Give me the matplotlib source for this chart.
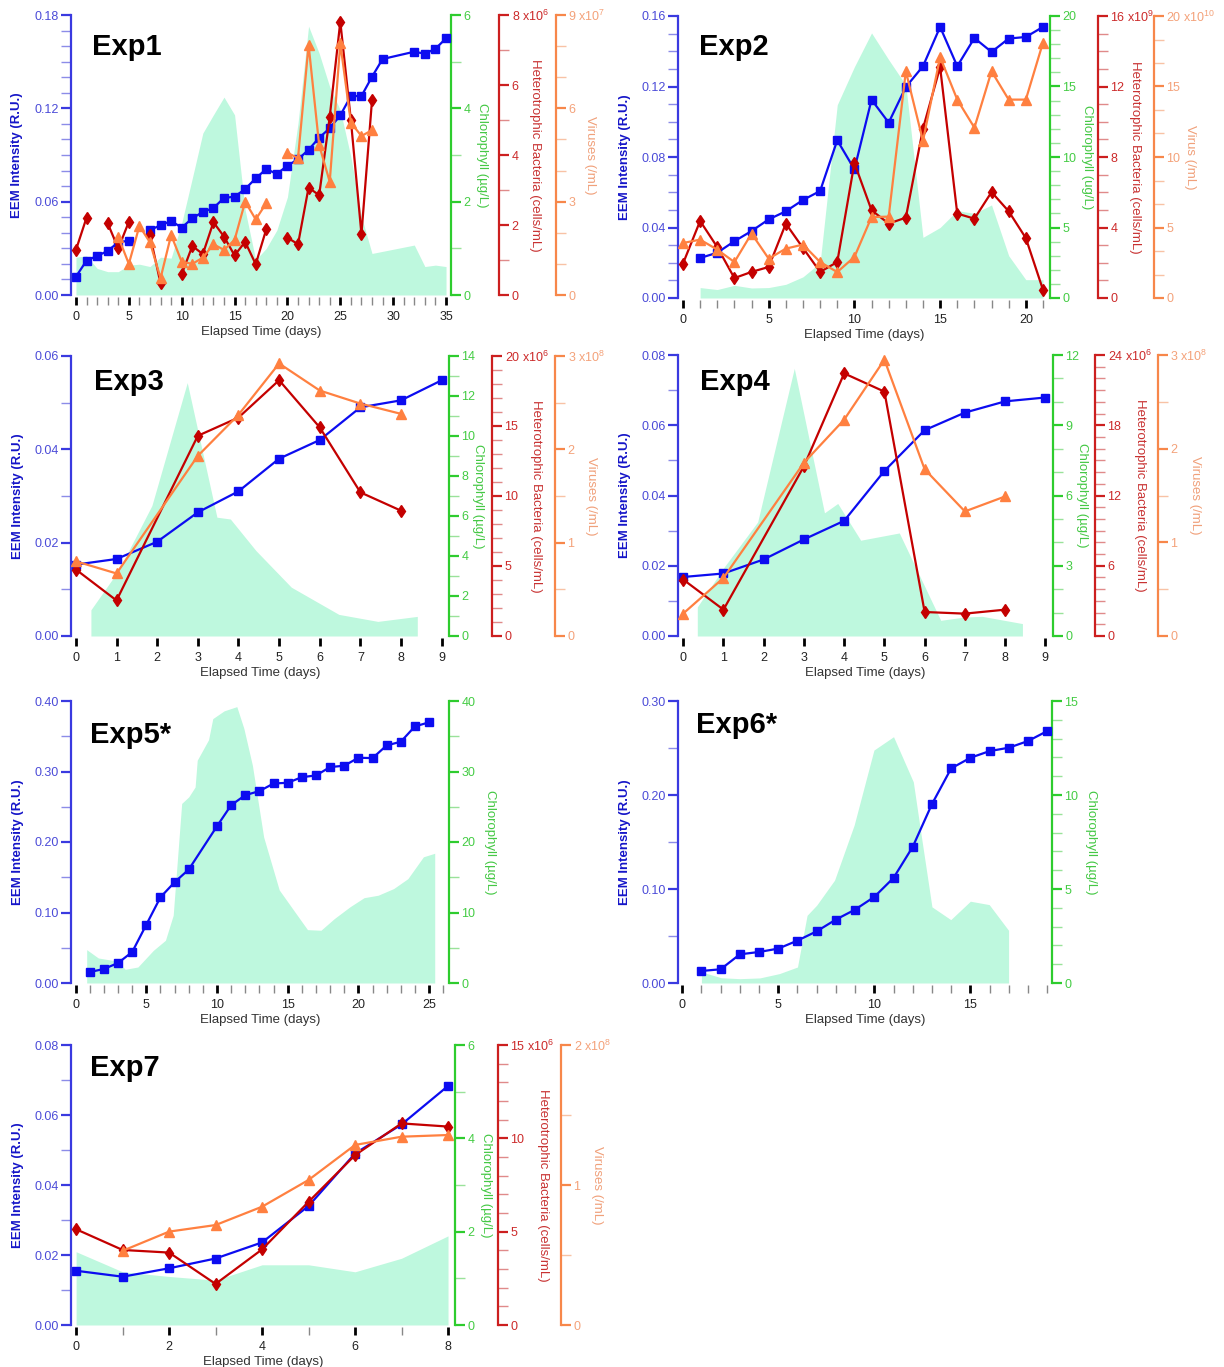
import numpy as np
import matplotlib
matplotlib.use("Agg")
import matplotlib.pyplot as plt
from matplotlib.ticker import MultipleLocator, FuncFormatter

plt.rcParams["font.family"] = ["Liberation Sans", "DejaVu Sans"]
plt.rcParams["mathtext.fontset"] = "custom"
plt.rcParams["mathtext.rm"] = "Liberation Sans"
plt.rcParams["mathtext.default"] = "regular"

nan = np.nan

# ---- Exp1 ----
exp1_eem_days = list(range(0, 30)) + [32, 33, 34, 35]
exp1_eem = [0.0118, 0.0221, 0.0251, 0.0283, 0.0339, 0.0349, nan, 0.0418, 0.0448, 0.0476,
            0.0433, 0.0493, 0.0534, 0.0559, 0.0624, 0.0632, 0.0681, 0.0750, 0.0810, 0.0778,
            0.0832, 0.0872, 0.0934, 0.1011, 0.1072, 0.1155, 0.1279, 0.1279, 0.1403, 0.1517,
            0.1564, 0.1551, 0.1583, 0.1650]
exp1_bact_days = list(range(0, 29))
exp1_bact = [1.29, 2.21, nan, 2.05, 1.33, 2.09, nan, 1.71, 0.33, nan, 0.59, 1.40, 1.17, 2.08,
             1.67, 1.13, 1.52, 0.88, 1.88, nan, 1.64, 1.45, 3.07, 2.85, 5.09, 7.81, 5.00, 1.74, 5.57]
exp1_vir_days = list(range(4, 29))
exp1_vir = [1.87, 1.00, 2.22, 1.69, 0.54, 1.93, 1.07, 1.00, 1.20, 1.63, 1.45, 1.77, 3.00,
            2.43, 2.95, nan, 4.57, 4.40, 8.04, 4.82, 3.64, 8.09, 5.54, 5.11, 5.30]
exp1_chl_days = list(range(0, 29)) + [32, 33, 34, 35]
exp1_chl = [0.81, 0.84, 0.57, 0.50, 0.50, 0.64, 0.66, 0.61, 0.81, 0.79, 1.54, 2.50, 3.47,
            3.86, 4.24, 3.86, 1.82, 0.75, 1.00, 1.39, 2.10, 3.68, 5.76, 5.18, 4.46, 3.96,
            2.96, 1.68, 0.89, 1.07, 0.61, 0.64, 0.61]

# ---- Exp2 ----
exp2_eem_days = list(range(1, 22))
exp2_eem = [0.0227, 0.0257, 0.0322, 0.0380, 0.0446, 0.0492, 0.0556, 0.0607, 0.0895, 0.0730,
            0.1125, 0.0995, 0.1197, 0.1315, 0.1538, 0.1315, 0.1475, 0.1396, 0.1472, 0.1481, 0.1538]
exp2_bact_days = list(range(0, 22))
exp2_bact = [1.95, 4.37, 2.89, 1.13, 1.48, 1.76, 4.22, 2.84, 1.48, 2.04, 7.66, 4.98, 4.22,
             4.56, 9.61, 13.10, 4.79, 4.50, 6.01, 4.92, 3.40, 0.47]
exp2_vir_days = list(range(0, 22))
exp2_vir = [3.90, 4.14, 3.43, 2.55, 4.57, 2.79, 3.50, 3.79, 2.55, 1.84, 2.91, 5.74, 5.77,
            16.08, 11.14, 17.09, 14.07, 12.08, 16.08, 14.07, 14.07, 18.11]
exp2_chl_days = list(range(1, 22))
exp2_chl = [0.74, 0.60, 0.90, 0.71, 0.74, 0.97, 1.50, 2.50, 13.70, 16.40, 18.80, 16.90,
            15.10, 4.30, 5.00, 6.20, 6.00, 6.60, 3.00, 1.30, 1.30]

# ---- Exp3 ----
exp3_eem_days = list(range(0, 10))
exp3_eem = [0.0153, 0.0165, 0.0202, 0.0265, 0.0310, 0.0380, 0.0420, 0.0490, 0.0505, 0.0548]
exp3_bact_days = [0, 1, 3, 4, 5, 6, 7, 8]
exp3_bact = [4.75, 2.54, 14.30, 15.60, 18.27, 14.90, 10.26, 8.95]
exp3_vir_days = [0, 1, 3, 4, 5, 6, 7, 8]
exp3_vir = [0.80, 0.67, 1.93, 2.37, 2.92, 2.63, 2.49, 2.38]
exp3_chl_days = [0.37, 1.05, 1.87, 2.74, 3.47, 3.80, 4.43, 5.30, 6.47, 7.43, 8.40]
exp3_chl = [1.31, 3.28, 6.52, 12.67, 5.94, 5.85, 4.27, 2.44, 1.08, 0.73, 0.98]

# ---- Exp4 ----
exp4_eem_days = list(range(0, 10))
exp4_eem = [0.0168, 0.0178, 0.0218, 0.0275, 0.0328, 0.0470, 0.0586, 0.0636, 0.0668, 0.0679]
exp4_bact_days = [0, 1, 3, 4, 5, 6, 7, 8]
exp4_bact = [4.82, 2.25, 14.50, 22.43, 20.87, 2.05, 1.91, 2.25]
exp4_vir_days = [0, 1, 3, 4, 5, 6, 7, 8]
exp4_vir = [0.24, 0.62, 1.85, 2.31, 2.95, 1.78, 1.33, 1.49]
exp4_chl_days = [0.35, 1.02, 1.85, 2.76, 3.51, 3.84, 4.41, 5.37, 6.40, 6.99, 7.43, 8.43]
exp4_chl = [1.24, 2.95, 4.87, 11.43, 5.26, 5.66, 4.09, 4.40, 0.67, 0.81, 0.84, 0.53]

# ---- Exp5* ----
exp5_eem_days = list(range(1, 9)) + list(range(10, 26))
exp5_eem = [0.0156, 0.0199, 0.0284, 0.0440, 0.0828, 0.1217, 0.1430, 0.1610, 0.2225, 0.2523,
            0.2665, 0.2722, 0.2830, 0.2840, 0.2920, 0.2944, 0.3063, 0.3082, 0.3195, 0.3190,
            0.3370, 0.3422, 0.3640, 0.3697]
exp5_chl_days = [0.78, 1.6, 3.0, 3.5, 4.4, 5.5, 6.35, 6.9, 7.5, 8.0, 8.45, 8.6, 9.4, 9.7,
                 10.5, 11.4, 11.9, 12.5, 13.3, 14.4, 15.5, 16.4, 17.35, 18.3, 19.4, 20.4,
                 21.4, 22.5, 23.5, 24.6, 25.4]
exp5_chl = [4.73, 3.55, 3.08, 1.94, 2.27, 4.64, 6.06, 9.61, 25.47, 26.4, 27.8, 31.6, 34.5,
            37.5, 38.6, 39.2, 36.1, 30.9, 20.7, 13.2, 10.1, 7.57, 7.48, 9.14, 10.8, 12.1,
            12.45, 13.4, 14.8, 17.9, 18.4]

# ---- Exp6* ----
exp6_eem_days = list(range(1, 20))
exp6_eem = [0.0128, 0.0146, 0.0305, 0.0330, 0.0366, 0.0451, 0.0550, 0.0675, 0.0781, 0.0916,
            0.1118, 0.1449, 0.1903, 0.2283, 0.2396, 0.2467, 0.2503, 0.2574, 0.2680]
exp6_chl_days = [1.0, 2.03, 3.0, 4.04, 5.06, 6.0, 6.5, 7.0, 7.93, 8.95, 9.98, 11.0, 12.03,
                 12.44, 13.0, 13.98, 15.0, 15.98, 16.99]
exp6_chl = [0.59, 0.28, 0.23, 0.27, 0.50, 0.85, 3.60, 4.14, 5.47, 8.40, 12.39, 13.10, 10.70,
            7.86, 4.05, 3.37, 4.35, 4.17, 2.80]

# ---- Exp7 ----
exp7_eem_days = list(range(0, 9))
exp7_eem = [0.0155, 0.0138, 0.0162, 0.0190, 0.0236, 0.0340, 0.0490, 0.0573, 0.0683]
exp7_bact_days = list(range(0, 9))
exp7_bact = [5.13, 4.02, 3.88, 2.20, 4.05, 6.60, 9.10, 10.80, 10.63]
exp7_vir_days = list(range(1, 9))
exp7_vir = [0.530, 0.667, 0.714, 0.845, 1.036, 1.286, 1.345, 1.357]
exp7_chl_days = list(range(0, 9))
exp7_chl = [1.57, 1.14, 1.04, 0.96, 1.29, 1.29, 1.14, 1.43, 1.91]

# colours
BLUE_LINE, RED_LINE, ORANGE_LINE = "#0c0cf0", "#c40000", "#ff8040"
FILL = "#bef8de"
AX_COLORS = {
    "eem": ("#3a3ae0", "#4b4bd8", "#8c8ce8", "#1515c8"),
    "chl": ("#2ecc2e", "#44cc44", "#9ae29a", "#44c844"),
    "bact": ("#cc1f1f", "#cc2a2a", "#e08a8a", "#c83232"),
    "vir": ("#f7874a", "#f4a27a", "#f8c2a5", "#f0a07a"),
}

W, H = 1224, 1367
fig = plt.figure(figsize=(W / 100, H / 100), dpi=100)


def y_axis(ax, kind, side, top, major, minor, fmt, label, label_x, suffix="",
           weight="normal", size=9.5):
    spine_c, text_c, minor_c, label_c = AX_COLORS[kind]
    ax.set_ylim(0, top)
    ax.yaxis.set_major_locator(MultipleLocator(major))
    ax.yaxis.set_minor_locator(MultipleLocator(minor))

    def lab(v, pos):
        s = fmt % v
        if suffix and abs(v - top) < 1e-6 * top:
            s += suffix
        return s

    ax.yaxis.set_major_formatter(FuncFormatter(lab))
    for k, sp in ax.spines.items():
        sp.set_visible(k == side)
    ax.spines[side].set_color(spine_c)
    ax.spines[side].set_linewidth(1.6)
    ax.tick_params(axis="y", which="major", color=spine_c, labelcolor=text_c,
                   length=7, width=1.6, labelsize=9, pad=2)
    ax.tick_params(axis="y", which="minor", color=minor_c, length=7, width=1)
    rot = 90 if side == "left" else 270
    ax.set_ylabel(label, color=label_c, fontsize=size, fontweight=weight,
                  rotation=rot, va="center", ha="center")
    ax.yaxis.set_label_coords(label_x, 0.5)


def panel(rect, xlim, xmaj, name, name_xy, eem, eem_top, eem_maj, eem_min,
          chl, chl_spec, lab_px, bact=None, bact_spec=None, vir=None, vir_spec=None,
          offsets=(0, 0), chl_label="Chlorophyll (µg/L)", vir_label="Viruses (/mL)"):
    l, r, t, b = rect
    wpx = r - l
    fr = lambda px: (px - l) / wpx
    ax = fig.add_axes([l / W, 1 - b / H, wpx / W, (b - t) / H])
    ax.patch.set_visible(False)
    ax.set_zorder(2)

    axc = ax.twinx()
    axc.set_zorder(1)
    axc.fill_between(chl[0], 0, chl[1], color=FILL, lw=0)
    y_axis(axc, "chl", "right", chl_spec[0], chl_spec[1], chl_spec[2], "%g",
           chl_label, fr(lab_px[1]))

    ax.plot(eem[0], eem[1], "-s", color=BLUE_LINE, lw=1.6, ms=5.5)
    ax.set_xlim(*xlim)
    y_axis(ax, "eem", "left", eem_top, eem_maj, eem_min, "%.2f",
           "EEM Intensity (R.U.)", fr(lab_px[0]), weight="bold", size=9.5)
    ax.spines["bottom"].set_position(("outward", 1.5))
    ax.xaxis.set_major_locator(MultipleLocator(xmaj))
    ax.xaxis.set_minor_locator(MultipleLocator(1))
    ax.tick_params(axis="x", which="major", color="black", labelcolor="#222222",
                   length=6, width=2, labelsize=9, pad=4)
    ax.tick_params(axis="x", which="minor", color="#888888", length=6, width=1)
    ax.set_xlabel("Elapsed Time (days)", fontsize=9.5, color="#333333", va="center")
    ax.xaxis.set_label_coords(0.5, -37 / (b - t))
    ax.text(name_xy[0], name_xy[1], name, transform=ax.transAxes, fontsize=21,
            fontweight="bold", va="baseline", ha="left")

    if bact is not None:
        axb = ax.twinx()
        axb.set_zorder(3)
        axb.spines["right"].set_position(("outward", offsets[0] * 0.72))
        axb.plot(bact[0], bact[1], "-d", color=RED_LINE, lw=1.6, ms=6.5)
        y_axis(axb, "bact", "right", bact_spec[0], bact_spec[1], bact_spec[2], "%g",
               "Heterotrophic Bacteria (cells/mL)", fr(lab_px[2]), bact_spec[3])
    if vir is not None:
        axv = ax.twinx()
        axv.set_zorder(3)
        axv.spines["right"].set_position(("outward", offsets[1] * 0.72))
        axv.plot(vir[0], vir[1], "-^", color=ORANGE_LINE, lw=1.6, ms=6.5)
        y_axis(axv, "vir", "right", vir_spec[0], vir_spec[1], vir_spec[2], "%g",
               vir_label, fr(lab_px[3]), vir_spec[3])


panel((71, 451, 15, 295), (-0.47, 35.47), 5, "Exp1", (0.055, 0.857),
      (exp1_eem_days, exp1_eem), 0.18, 0.06, 0.01,
      (exp1_chl_days, exp1_chl), (6, 2, 1), (17, 482, 535, 590),
      bact=(exp1_bact_days, exp1_bact), bact_spec=(8, 2, 1, " x10$^{6}$"),
      vir=(exp1_vir_days, exp1_vir), vir_spec=(9, 3, 1, " x10$^{7}$"), offsets=(48, 105))

panel((678, 1050, 16, 298), (-0.29, 21.41), 5, "Exp2", (0.057, 0.862),
      (exp2_eem_days, exp2_eem), 0.16, 0.04, 0.01,
      (exp2_chl_days, exp2_chl), (20, 5, 1), (625, 1087, 1135, 1190),
      bact=(exp2_bact_days, exp2_bact), bact_spec=(16, 4, 1, " x10$^{9}$"),
      vir=(exp2_vir_days, exp2_vir), vir_spec=(20, 5, 5 / 3, " x10$^{10}$"), offsets=(48, 104),
      chl_label="Chlorophyll (ug/L)", vir_label="Virus (/mL)")

panel((71, 449, 356, 636), (-0.12, 9.18), 1, "Exp3", (0.062, 0.879),
      (exp3_eem_days, exp3_eem), 0.06, 0.02, 0.01,
      (exp3_chl_days, exp3_chl), (14, 2, 1), (18, 478, 536, 591),
      bact=(exp3_bact_days, exp3_bact), bact_spec=(20, 5, 1, " x10$^{6}$"),
      vir=(exp3_vir_days, exp3_vir), vir_spec=(3, 1, 0.5, " x10$^{8}$"), offsets=(43, 106))

panel((678, 1053, 355, 636), (-0.13, 9.19), 1, "Exp4", (0.06, 0.875),
      (exp4_eem_days, exp4_eem), 0.08, 0.02, 0.01,
      (exp4_chl_days, exp4_chl), (12, 3, 1), (625, 1082, 1140, 1195),
      bact=(exp4_bact_days, exp4_bact), bact_spec=(24, 6, 1, " x10$^{6}$"),
      vir=(exp4_vir_days, exp4_vir), vir_spec=(3, 1, 0.5, " x10$^{8}$"), offsets=(42, 105))

panel((71, 449, 701, 983), (-0.33, 26.41), 5, "Exp5*", (0.05, 0.851),
      (exp5_eem_days, exp5_eem), 0.40, 0.10, 0.05,
      (exp5_chl_days, exp5_chl), (40, 10, 5), (18, 490))

panel((678, 1052, 701, 983), (-0.22, 19.25), 5, "Exp6*", (0.048, 0.887),
      (exp6_eem_days, exp6_eem), 0.30, 0.10, 0.05,
      (exp6_chl_days, exp6_chl), (15, 5, 1), (625, 1091))

panel((71, 455, 1045, 1325), (-0.11, 8.15), 2, "Exp7", (0.049, 0.889),
      (exp7_eem_days, exp7_eem), 0.08, 0.02, 0.01,
      (exp7_chl_days, exp7_chl), (6, 2, 1), (18, 486, 543, 597),
      bact=(exp7_bact_days, exp7_bact), bact_spec=(15, 5, 1, " x10$^{6}$"),
      vir=(exp7_vir_days, exp7_vir), vir_spec=(2, 1, 0.5, " x10$^{8}$"), offsets=(43, 106))

fig.savefig("out.png", dpi=100)
